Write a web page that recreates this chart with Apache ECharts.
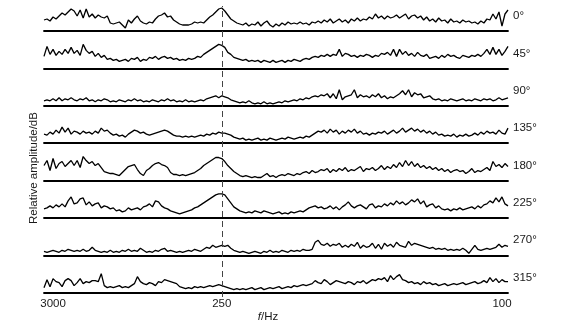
<!DOCTYPE html>
<html><head><meta charset="utf-8">
<script src="https://cdn.jsdelivr.net/npm/echarts@6/dist/echarts.min.js"></script>
<style>html,body{margin:0;padding:0;background:#fff}#c{width:563px;height:324px}</style>
</head><body><div id="c"></div>
<script>
const angleLabels = ['0°','45°','90°','135°','180°','225°','270°','315°'];
const tickLabels = ['3000','250','100'];
const tickIndex = [3,59,152];
const peakIndex = 59;
const yTitle = 'Relative amplitude/dB';

const s0 = [11,12,10,14,12,15,18,16,19,22, 20,15,21,13,22,14,17,13,16,14, 13,15,8,7,8,9,6,3,11,8, 12,15,10,8,7,9,8,12,15,16,
 18,14,15,11,9,7,6,6,6,7, 9,8,9,8,11,14,16,19,22,23, 20,16,12,10,8,7,6,8,5,7, 6,9,5,8,10,6,4,7,5,8,
 6,9,7,8,7,9,7,8,6,9, 8,10,8,11,9,12,8,10,12,9, 11,8,12,10,13,10,12,11,14,12, 17,13,15,12,15,13,14,16,13,15,
 17,12,15,16,13,15,11,14,10,12, 9,13,10,11,8,12,9,10,8,11, 9,10,8,9,7,10,8,12,11,17, 12,19,5,17,21];
const s45 = [12,22,14,19,13,17,14,19,15,21, 15,18,13,24,18,15,17,12,15,11, 13,9,10,8,9,7,8,9,7,10, 9,11,7,9,8,11,10,12,9,11,
 12,10,11,9,10,8,9,8,10,9, 10,12,11,14,16,18,20,22,24,23, 21,16,14,11,10,9,8,9,7,8, 7,8,6,8,7,6,8,6,7,8,
 6,8,7,9,8,7,9,10,9,11, 12,11,13,12,14,12,14,13,19,12, 15,14,12,13,11,13,12,14,13,11, 13,12,15,14,16,13,19,12,19,14,
 17,13,15,12,16,13,12,14,10,11, 12,10,13,11,14,12,13,11,10,13, 12,11,13,12,14,12,15,19,14,21, 14,19,13,17,22];
const s90 = [5,6,5,7,5,8,5,7,6,8, 6,5,7,6,8,5,6,4,6,5, 7,6,4,5,4,6,5,4,6,5, 7,5,6,4,5,4,6,5,4,6,
 5,7,5,6,4,5,4,6,4,5, 4,5,6,5,7,8,9,10,8,10, 9,8,6,5,4,3,4,3,5,3, 2,3,2,4,2,3,2,3,4,3,
 5,4,5,6,5,7,6,8,7,9, 10,9,11,10,12,8,12,7,16,6, 9,10,11,16,8,11,9,10,8,11, 9,12,8,10,7,9,8,10,12,15,
 11,16,9,13,11,12,8,9,10,7, 6,7,5,6,5,7,6,5,6,7, 5,6,5,7,6,5,7,6,7,5, 6,8,6,7,8];
const s135 = [9,8,11,9,13,10,16,11,15,9, 12,11,9,12,10,11,9,12,10,15, 12,13,10,8,9,7,8,6,9,11, 13,12,10,11,9,8,9,10,11,12,
 13,12,10,8,7,7,6,7,6,7, 6,7,8,7,9,8,10,9,11,10, 10,9,8,6,5,4,5,3,4,3, 4,5,3,4,3,5,4,3,4,5,
 4,6,5,4,5,6,5,7,6,8, 10,12,11,13,10,14,11,13,9,12, 10,13,11,14,10,12,9,10,8,10, 9,11,10,12,9,11,13,10,12,15,
 11,13,15,12,14,11,13,10,12,9, 11,8,9,7,8,7,9,6,8,7, 9,7,8,10,8,11,9,12,10,11, 9,13,10,9,15];
const s180 = [15,20,10,22,12,17,19,14,17,20, 15,20,13,24,20,17,19,15,17,13, 9,8,7,7,6,5,8,11,14,15, 16,11,7,5,10,12,15,17,18,16,
 15,13,8,6,6,5,6,5,6,7, 8,10,12,15,17,19,21,23,23,22, 19,15,12,9,7,5,4,5,4,3, 4,3,3,5,7,4,5,3,5,6,
 5,7,6,5,7,6,8,9,7,10, 8,9,11,10,12,8,11,9,12,10, 13,9,11,10,12,14,9,12,11,13, 10,12,15,11,14,12,16,13,18,14,
 20,15,19,14,17,13,15,12,14,11, 13,10,12,9,11,8,10,11,9,10, 7,9,12,8,10,9,11,13,10,19, 14,16,13,17,14];
const s225 = [9,10,12,10,13,11,14,11,17,21, 14,15,19,20,13,16,12,14,15,10, 12,11,9,10,7,8,6,7,10,8, 9,10,8,11,12,14,11,17,16,12,
 10,9,7,6,5,4,5,6,7,8, 10,11,13,15,17,19,21,23,24,24, 23,19,15,11,9,7,6,5,6,5, 7,6,5,7,6,5,4,5,6,4,
 5,4,6,5,6,7,6,8,10,11, 12,10,11,9,10,12,9,11,8,11, 13,16,12,10,12,13,11,9,13,14, 10,12,11,14,12,15,13,17,14,16,
 13,15,18,16,19,14,17,11,13,14, 10,12,9,8,9,7,9,8,10,8, 9,10,11,9,12,10,13,14,17,15, 20,16,21,14,12];
const s270 = [4,3,4,5,4,3,5,4,6,5, 4,5,4,6,4,5,8,5,4,3, 4,3,5,3,4,3,5,4,6,4, 5,4,7,5,3,4,3,5,4,6,
 7,4,5,4,3,4,3,4,5,4, 6,5,4,6,8,7,10,8,9,10, 9,10,7,5,4,3,4,3,2,3, 4,3,2,4,3,5,3,4,3,5,
 4,3,5,4,5,4,6,5,5,6, 13,15,11,10,12,9,11,10,12,8, 10,8,11,9,13,7,10,8,9,12, 7,11,6,12,9,11,8,13,10,9,
 8,14,10,12,11,10,9,8,7,8, 6,7,6,7,5,6,5,6,5,7, 5,2,6,10,6,5,6,7,6,7, 8,11,8,10,9];
const s315 = [5,13,6,14,11,10,6,12,14,12, 7,10,14,9,11,10,12,12,11,19, 7,5,6,5,6,7,5,6,5,7, 9,16,11,9,8,10,9,7,11,10,
 13,12,11,10,9,6,5,4,5,4, 6,5,6,5,6,7,6,7,8,7, 6,5,4,3,4,3,4,3,4,5, 3,4,5,3,4,5,4,5,6,4,
 5,6,5,7,6,7,8,7,8,9, 12,10,9,13,11,8,10,12,11,10, 9,11,10,8,11,10,12,9,11,13, 12,14,13,15,11,17,13,16,18,13,
 12,10,11,9,10,8,11,9,10,8, 9,7,8,9,7,8,9,8,9,10, 8,9,10,11,9,10,12,10,15,11, 14,10,13,11,11];

const traces = [s0,s45,s90,s135,s180,s225,s270,s315];
const cats = s0.map((_, i) => i);

const FONT = 'Liberation Sans, Arial, sans-serif';
const TXT = '#1a1a1a';
const firstBase = 31, step = 37.38, gh = 28, L = 44, W = 464;

const grid = [], xAxis = [], yAxis = [], series = [], graphic = [];
traces.forEach((d, k) => {
  const base = firstBase + step * k;
  grid.push({left: L, width: W, top: base - gh, height: gh});
  const isLast = k === traces.length - 1;
  xAxis.push({
    type: 'category', gridIndex: k, data: cats, boundaryGap: false,
    axisLine: {show: true, lineStyle: {color: '#000', width: 1.8}},
    axisTick: {show: false}, splitLine: {show: false},
    axisLabel: isLast ? {
      show: true, interval: (i) => tickIndex.includes(i),
      formatter: (v, i) => tickLabels[tickIndex.indexOf(i)] || '',
      fontSize: 11.5, color: TXT, fontFamily: FONT, margin: 5
    } : {show: false},
    name: isLast ? '{i|f}/Hz' : '',
    nameLocation: 'middle', nameGap: 15,
    nameTextStyle: {fontSize: 11.5, color: TXT, fontFamily: FONT, padding: [0, 16, 0, 0],
      rich: {i: {fontStyle: 'italic', fontSize: 11.5, color: TXT, fontFamily: FONT}}}
  });
  yAxis.push({type: 'value', gridIndex: k, min: 0, max: gh, show: false});
  series.push({
    type: 'line', xAxisIndex: k, yAxisIndex: k, data: d, symbol: 'none',
    lineStyle: {color: '#000', width: 1.3}, silent: true
  });
  graphic.push({
    type: 'text', left: 513, top: base - 21,
    style: {text: angleLabels[k], fontSize: 11.5, fill: TXT, font: '11.5px ' + FONT}
  });
});

// dashed reference line grid
grid.push({left: L, width: W, top: 6, bottom: 27});
xAxis.push({type: 'category', gridIndex: 8, data: cats, boundaryGap: false, show: false});
yAxis.push({type: 'value', gridIndex: 8, min: 0, max: 1, show: false});
series.push({
  type: 'line', xAxisIndex: 8, yAxisIndex: 8, data: [], symbol: 'none',
  markLine: {silent: true, symbol: 'none', label: {show: false},
    lineStyle: {type: [6, 4], color: '#444', width: 1},
    data: [{xAxis: peakIndex}]}
});

graphic.push({
  type: 'text', x: 34, y: 168, rotation: Math.PI / 2,
  style: {text: yTitle, font: '11.5px ' + FONT, fill: TXT, textAlign: 'center', textVerticalAlign: 'middle'}
});

const chart = echarts.init(document.getElementById('c'), null, {renderer: 'canvas'});
chart.setOption({
  animation: false, backgroundColor: '#fff',
  grid, xAxis, yAxis, series, graphic
});
</script>
</body></html>
